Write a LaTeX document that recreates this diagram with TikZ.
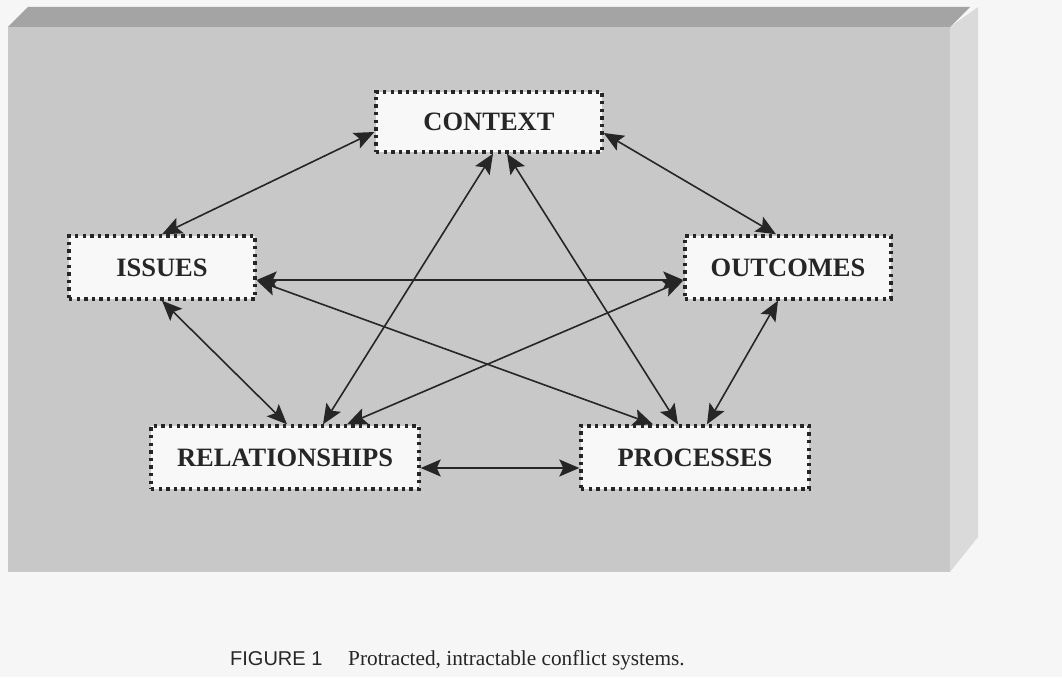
\documentclass[tikz,border=0pt]{standalone}
\usepackage{fontspec}
\setmainfont{Liberation Serif}
\newfontfamily\capsans{Liberation Sans}
\usetikzlibrary{arrows.meta}
\definecolor{bgpage}{HTML}{F6F6F6}
\definecolor{panelfront}{HTML}{C8C8C8}
\definecolor{paneltop}{HTML}{A4A4A4}
\definecolor{panelside}{HTML}{DADADA}
\definecolor{boxfill}{HTML}{F8F8F8}
\definecolor{ink}{HTML}{262626}
\tikzset{
  conceptbox/.style={rectangle, fill=boxfill, draw=ink, line width=3.4pt,
    dash pattern=on 3.4pt off 4.2pt, inner sep=0pt,
    font=\fontsize{26.5}{30}\selectfont\bfseries, text=ink},
  bighead/.tip={Stealth[length=20pt,width=17pt,inset=4pt]},
  link/.style={draw=ink, line width=1.6pt, bighead-bighead},
  captext/.style={inner sep=0pt, text=ink, anchor=base west}
}
\begin{document}
\begin{tikzpicture}[x=1pt,y=-1pt]
\useasboundingbox (0,0) rectangle (1062,677);
\fill[bgpage] (0,0) rectangle (1062,677);
% 3D panel
\fill[panelside] (950,27) -- (978,7) -- (978,537) -- (950,572) -- cycle;
\fill[paneltop] (8,27) -- (28,7) -- (970,7) -- (950,27) -- cycle;
\fill[panelfront] (8,27) rectangle (950,572);
% nodes
\node[conceptbox, minimum width=226pt, minimum height=60pt] (ctx) at (489,122) {CONTEXT};
\node[conceptbox, minimum width=186pt, minimum height=63pt] (iss) at (162,267.5) {ISSUES};
\node[conceptbox, minimum width=206pt, minimum height=63pt] (out) at (788,267.5) {OUTCOMES};
\node[conceptbox, minimum width=268pt, minimum height=63pt] (rel) at (285,457.5) {RELATIONSHIPS};
\node[conceptbox, minimum width=228pt, minimum height=63pt] (proc) at (695,457.5) {PROCESSES};
% connectors
\draw[link] ([yshift=-10pt]ctx.west) -- (iss.north);
\draw[link] ([yshift=-11pt]ctx.east) -- ([xshift=-12pt]out.north);
\draw[link] ([xshift=4pt]ctx.south) -- ([xshift=38pt]rel.north);
\draw[link] ([xshift=18pt]ctx.south) -- ([xshift=-17pt]proc.north);
\draw[link] ([yshift=-12.5pt]iss.east) -- ([yshift=-12.5pt]out.west);
\draw[link] ([yshift=-13pt]iss.east) -- ([xshift=-42pt]proc.north);
\draw[link] (iss.south) -- ([xshift=2pt]rel.north);
\draw[link] ([yshift=-13pt]out.west) -- ([xshift=62pt]rel.north);
\draw[link] ([xshift=-10pt]out.south) -- ([xshift=12pt]proc.north);
\draw[link] ([yshift=-10.5pt]rel.east) -- ([yshift=-10.5pt]proc.west);
% caption
\node[captext, font=\capsans\fontsize{20}{24}\selectfont] (capnum) at (230,665) {FIGURE 1};
\node[captext, font=\fontsize{21.3}{25}\selectfont] (captxt) at (348,665) {Protracted, intractable conflict systems.};
\end{tikzpicture}
\end{document}
